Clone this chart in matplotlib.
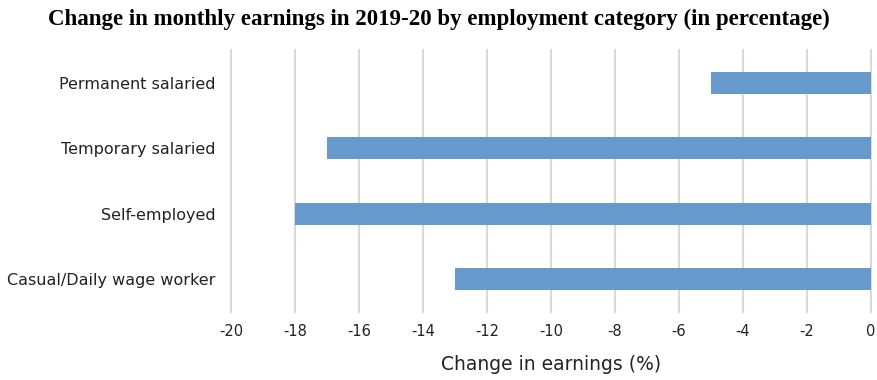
import matplotlib
matplotlib.use("Agg")
import matplotlib.pyplot as plt

plt.rcParams['font.family'] = ['DejaVu Sans']

# Data
categories = ['Permanent salaried', 'Temporary salaried', 'Self-employed', 'Casual/Daily wage worker']
change_pct = [-5, -17, -18, -13]
x_ticks = list(range(-20, 1, 2))

fig = plt.figure(figsize=(8.77, 3.8), dpi=100)
ax = fig.add_axes([0.2634, 0.179, 0.7298, 0.689])

y_pos = list(range(len(categories)))
ax.barh(y_pos, change_pct, height=0.34, color='#6699CC', zorder=3)

ax.set_yticks(y_pos)
ax.set_yticklabels(categories, fontsize=11.5, color='#222222')
ax.set_ylim(len(categories) - 0.5, -0.5)

ax.set_xlim(-20, 0)
ax.set_xticks(x_ticks)
ax.set_xticklabels([str(t) for t in x_ticks], fontsize=10.5, color='#222222')
ax.grid(axis='x', color='#d9d9d9', linewidth=1.5, zorder=0)
for gl in ax.get_xgridlines():
    gl.set_clip_on(False)
ax.tick_params(axis='both', length=0)
ax.tick_params(axis='x', pad=9)
ax.tick_params(axis='y', pad=11)
for s in ax.spines.values():
    s.set_visible(False)

ax.set_xlabel('Change in earnings (%)', fontsize=13.5, color='#222222', labelpad=11)

fig.text(0.5, 0.95, 'Change in monthly earnings in 2019-20 by employment category (in percentage)',
         ha='center', va='center', fontsize=16.5, fontweight='bold', family='Liberation Serif')

fig.savefig('out.png', dpi=100)
